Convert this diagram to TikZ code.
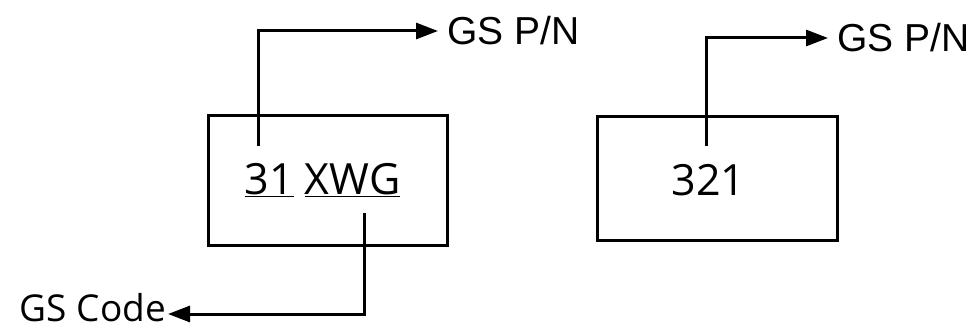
\documentclass[tikz,border=0pt]{standalone}
\usepackage{fontspec}
\setmainfont{Open Sans}
\newfontfamily\arialf{Liberation Sans}
\usetikzlibrary{arrows.meta}
\begin{document}
\begin{tikzpicture}[x=1pt,y=-1pt,
  box/.style={draw,line width=3pt,rectangle,inner sep=0pt},
  conn/.style={line width=3pt,-{Triangle[length=22pt,width=16pt]}},
  boxtext/.style={inner sep=0pt,font=\fontsize{43}{50}\selectfont},
  pnlabel/.style={inner sep=0pt,anchor=west,font=\arialf\fontsize{39}{44}\selectfont},
  codelabel/.style={inner sep=0pt,anchor=east,font=\fontsize{37}{42}\selectfont}]
\useasboundingbox (0,0) rectangle (971,331);
% left box
\node[box,minimum width=239pt,minimum height=129pt] (b1) at (327.5,180.5) {};
\node[boxtext] (t1) at (322.5,180) {\underline{31} \underline{XWG}};
\coordinate (s1) at (258,146);
\coordinate (s2) at (364,213);
\node[pnlabel] (p1) at (447,31) {GS P/N};
\node[codelabel] (gc) at (166,308) {GS Code};
\draw[conn] (s1) |- ([xshift=-9pt]p1.west);
\draw[conn] (s2) |- ([xshift=2pt,yshift=-6pt]gc.east);
% right box
\node[box,minimum width=240pt,minimum height=124pt] (b2) at (717,178.5) {};
\node[boxtext] (t2) at (708.5,180) {321};
\coordinate (s3) at (706,146);
\node[pnlabel] (p2) at (837,38) {GS P/N};
\draw[conn] (s3) |- ([xshift=-9pt]p2.west);
\end{tikzpicture}
\end{document}
